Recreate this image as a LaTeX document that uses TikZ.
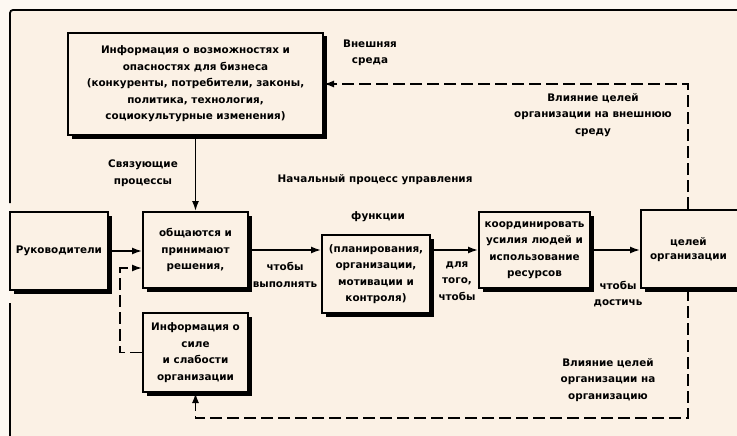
\documentclass[tikz,border=0pt]{standalone}
\usepackage{fontspec}
\setmainfont{DejaVu Sans}
\usetikzlibrary{arrows.meta,calc,shadows}
\definecolor{bgc}{RGB}{251,241,229}
\definecolor{bgo}{RGB}{253,248,242}
\begin{document}
\begin{tikzpicture}[x=1pt,y=-1pt,
 font=\bfseries\fontsize{10.4}{16.5}\selectfont,
 box/.style={draw, line width=2pt, fill=bgc, align=center, inner sep=1pt,
   drop shadow={shadow xshift=3.5pt, shadow yshift=-3.5pt, fill=black, opacity=1}},
 lbl/.style={align=center, inner sep=0pt},
 conn/.style={line width=1.6pt},
 arr/.style={-{Latex[length=10pt,width=7pt]}},
 dsh/.style={dash pattern=on 12pt off 5pt}]
\useasboundingbox (0,0) rectangle (737,436);
\fill[bgo] (0,0) rectangle (737,436);
\fill[bgc] (10,10) rectangle (737,436);
\draw[line width=1.8pt, rounded corners=3pt] (10,203) -- (10,10) -- (745,10);
\draw[line width=1.8pt] (10,303) -- (10,440);

\node[box, minimum width=255pt, minimum height=102pt] (top) at (195.5,84)
 {Информация о возможностях и\\опасностях для бизнеса\\(конкуренты, потребители, законы,\\политика, технология,\\социокультурные изменения)};
\node[box, minimum width=98pt, minimum height=78pt] (ruk) at (59,251) {Руководители};
\node[box, minimum width=105pt, minimum height=76pt] (act) at (195.5,250) {общаются и\\принимают\\решения,};
\node[box, minimum width=105pt, minimum height=79pt] (infos) at (195.5,352.5) {Информация о\\силе\\и слабости\\организации};
\node[box, minimum width=108pt, minimum height=78pt] (func) at (376,274) {(планирования,\\организации,\\мотивации и\\контроля)};
\node[box, minimum width=111pt, minimum height=76pt] (coord) at (534.5,250) {координировать\\усилия людей и\\использование\\ресурсов};
\node[box, minimum width=104pt, minimum height=78pt, text width=96pt, align=left] (goal) at (693,249) {\hspace*{5pt}\begin{tabular}{@{}c@{}}целей\\[-3pt]организации\end{tabular}};

\node[lbl] (ext) at (370,53) {Внешняя\\среда};
\node[lbl] (inflext) at (593,115) {Влияние целей\\организации на внешнюю\\среду};
\node[lbl] (link) at (143,173) {Связующие\\процессы};
\node[lbl] (start) at (375,180) {Начальный процесс управления};
\node[lbl] (funcl) at (378,217) {функции};
\node[lbl] (perf) at (285,275) {чтобы\\выполнять};
\node[lbl] (sothat) at (457,281) {для\\того,\\чтобы};
\node[lbl] (reach) at (618,294) {чтобы\\достичь};
\node[lbl] (inflorg) at (608,380) {Влияние целей\\организации на\\организацию};

\coordinate (gx) at (688,0);
\coordinate (dx) at (120,0);
\coordinate (by) at (0,418);

\draw[conn,arr] (top.south -| act.north) -- (act.north);
\draw[conn,arr] (ruk.east) -- (ruk.east -| act.west);
\draw[conn,dsh,arr] (infos.west) -- (dx |- infos.west) |- ($(act.west)+(0,18)$);
\draw[conn,arr] (act.east) -- (act.east -| func.west);
\draw[conn,arr] (act.east -| func.east) -- (act.east -| coord.west);
\draw[conn,arr] (coord.east) -- (coord.east -| goal.west);
\draw[conn,dsh,arr] (gx |- goal.north) -- (gx |- top.east) -- (top.east);
\draw[conn,dsh,arr] (gx |- goal.south) -- (gx |- by) -| (infos.south);
\end{tikzpicture}
\end{document}
